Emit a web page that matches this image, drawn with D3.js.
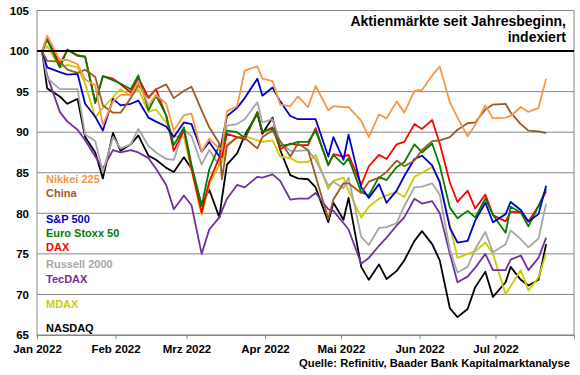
<!DOCTYPE html>
<html><head><meta charset="utf-8">
<script src="https://cdn.jsdelivr.net/npm/d3@7"></script>
<style>
body{margin:0;background:#fff}
svg{display:block}
text{font-family:"Liberation Sans",Arial,sans-serif;font-weight:bold}
</style>
</head><body>
<svg id="chart" width="580" height="375"></svg>
<script>
// ---- data (index, first trading day 2022 = 100) ----
const dates = [
"2022-01-03","2022-01-05","2022-01-10","2022-01-13","2022-01-17","2022-01-20","2022-01-24","2022-01-27","2022-01-31",
"2022-02-03","2022-02-07","2022-02-10","2022-02-14","2022-02-17","2022-02-21","2022-02-24","2022-02-28",
"2022-03-03","2022-03-07","2022-03-10","2022-03-14","2022-03-15","2022-03-17","2022-03-21","2022-03-24","2022-03-29","2022-03-31",
"2022-04-04","2022-04-07","2022-04-11","2022-04-14","2022-04-18","2022-04-21","2022-04-26","2022-04-28",
"2022-05-02","2022-05-04","2022-05-09","2022-05-12","2022-05-16","2022-05-19","2022-05-23","2022-05-26","2022-05-30",
"2022-06-02","2022-06-06","2022-06-09","2022-06-13","2022-06-16","2022-06-20","2022-06-23","2022-06-27","2022-06-30",
"2022-07-05","2022-07-07","2022-07-11","2022-07-14","2022-07-18","2022-07-21"];

const nikkei = [100,101.9,98.9,98.9,98.4,96.5,95.8,90.9,93.8,
 94.6,94.6,96.2,93.3,94.6,93.5,90.2,92.1,
 92.3,87.6,89.2,87.9,88.0,92.6,93.2,97.6,98.1,96.6,
 96.3,93.4,93.2,94.4,93.1,95.7,92.7,93.2,
 93.1,93.1,91.4,89.4,92.2,91.7,93.8,92.4,95.1,
 95.2,97.0,98.1,93.7,91.8,89.5,90.9,93.3,91.7,
 91.8,92.0,93.1,92.5,93.0,96.6];
const china = [100,98.8,98.7,97.7,97.3,97.7,96.8,93.3,92.4,
 92.4,94.2,95.8,94.2,95.3,95.9,94.2,95.1,
 95.6,92.7,90.6,88.6,84.2,88.3,89.4,89.3,88.0,89.4,
 90.2,88.9,87.0,88.6,87.8,84.6,79.3,81.7,
 83.7,83.7,82.5,83.9,84.4,85.1,86.5,85.8,86.5,
 87.8,88.9,89.0,89.4,90.3,91.1,91.2,92.8,93.4,
 93.5,92.4,91.0,90.2,90.1,89.9];
const sp500 = [100,98.0,97.4,97.1,97.2,93.5,91.9,90.2,94.1,
 93.3,93.5,93.9,91.8,91.3,90.7,89.4,91.2,
 91.0,87.6,88.8,87.0,88.9,92.0,93.0,94.2,96.6,94.5,
 95.5,93.8,92.0,91.6,91.6,91.6,87.0,89.4,
 86.6,89.7,83.2,81.9,83.6,81.3,82.8,84.6,86.7,
 87.1,85.9,83.8,78.2,76.4,76.6,79.1,81.3,78.9,
 79.9,81.4,80.4,79.0,79.9,83.4];
const eurostoxx = [100,101.4,98.0,100.2,99.4,99.3,93.6,96.9,96.4,
 96.0,95.3,97.0,92.7,94.5,92.1,88.4,90.6,
 86.0,80.9,85.4,88.4,88.1,90.2,90.0,89.3,92.4,90.1,
 90.4,88.3,88.5,88.8,88.8,90.2,86.0,87.2,
 86.0,86.8,82.6,82.2,84.5,84.1,85.7,86.3,88.5,
 87.5,88.6,85.9,80.7,79.4,80.3,79.5,81.8,79.8,
 77.6,80.8,80.1,78.4,80.9,83.0];
const dax = [100,101.6,98.4,100.1,99.5,99.3,93.7,96.9,96.6,
 95.9,94.9,96.7,94.3,95.3,92.0,87.7,90.3,
 85.5,80.1,83.9,86.9,86.9,89.8,89.4,89.1,92.5,90.0,
 90.6,87.9,88.6,88.4,88.4,90.5,85.9,87.3,
 87.0,87.2,83.5,85.8,87.2,86.7,88.5,88.8,91.0,
 90.4,91.5,88.6,83.8,81.4,82.8,80.6,82.3,79.8,
 79.0,80.2,80.1,79.0,80.9,82.7];
const russell = [100,96.7,95.3,95.3,95.3,89.7,88.9,85.1,89.4,
 88.0,88.5,90.4,88.3,87.5,86.7,86.6,90.3,
 89.5,86.0,87.8,85.9,88.0,90.8,91.0,91.6,93.7,91.2,
 91.6,88.8,87.7,87.7,87.8,86.6,83.4,83.9,
 83.1,84.4,77.1,76.1,78.2,78.3,78.8,80.9,83.2,
 83.3,83.7,82.3,75.5,72.7,73.4,75.6,77.7,75.2,
 76.2,77.9,76.8,75.8,76.9,81.2];
const tecdax = [100,97.0,92.5,91.3,90.3,89.0,87.0,85.5,87.8,
 87.5,87.8,87.5,86.8,85.5,83.5,80.5,82.2,
 81.0,75.0,78.0,79.5,80.3,81.8,83.5,83.2,84.5,84.4,
 84.8,84.0,81.7,81.8,81.8,82.5,80.5,80.3,
 78.8,78.0,73.8,74.5,76.0,77.0,78.5,79.5,81.8,
 81.2,81.5,80.0,75.0,71.5,72.2,73.3,75.0,73.0,
 73.0,74.3,74.8,73.0,74.5,77.0];
const mdax = [100,100.6,98.0,98.3,98.0,96.0,91.8,93.0,94.3,
 95.3,94.5,95.3,92.5,92.8,91.2,89.5,89.4,
 85.3,79.8,83.5,86.0,86.3,88.5,89.3,89.5,89.0,88.8,
 89.0,87.0,86.8,86.3,86.3,87.2,83.0,84.0,
 84.4,82.8,79.5,80.8,81.8,82.2,82.6,82.0,84.5,
 85.0,85.7,84.0,78.5,74.5,75.0,75.3,76.4,75.0,
 70.0,71.0,73.0,70.5,72.1,75.1];
const nasdaq = [100,95.4,94.4,93.5,94.1,89.4,87.5,84.3,89.9,
 87.7,88.5,89.6,87.1,86.6,85.6,85.1,86.9,
 85.5,81.0,82.9,79.5,81.8,86.0,87.4,89.6,92.3,89.8,
 91.8,87.8,84.7,84.3,84.2,83.2,78.9,81.3,
 79.2,81.9,73.4,71.8,73.7,71.9,72.9,74.2,76.6,
 77.8,76.2,74.2,68.3,67.2,68.2,70.9,72.8,69.7,
 71.5,73.4,71.8,71.1,71.8,76.2];

const seriesNames  = ["Nikkei 225","China","S&P 500","Euro Stoxx 50","DAX","Russell 2000","TecDAX","MDAX","NASDAQ"];
const seriesValues = [nikkei, china, sp500, eurostoxx, dax, russell, tecdax, mdax, nasdaq];
const seriesColors = ["#F79646","#9C5A22","#0000CC","#008000","#FF0000","#A6A6A6","#7030A0","#CCCC00","#000000"];
const legendY      = [183,197,223,237,251,268,283,308,332];
const drawOrder    = [8,7,6,5,4,3,2,1,0];

const yTicks = [65,70,75,80,85,90,95,100,105];
const monthTicks = ["2022-01-01","2022-02-01","2022-03-01","2022-04-01","2022-05-01","2022-06-01","2022-07-01","2022-08-01"];
const monthLabels = ["Jan 2022","Feb 2022","Mrz 2022","Apr 2022","Mai 2022","Jun 2022","Jul 2022",""];
const titleLines = ["Aktienmärkte seit Jahresbeginn,","indexiert"];
const sourceText = "Quelle: Refinitiv, Baader Bank Kapitalmarktanalyse";

// ---- chart ----
const parse = d3.utcParse("%Y-%m-%d");
const svg = d3.select("#chart");
const L = 37, R = 574, T = 10.5, B = 335;
const x = d3.scaleUtc().domain([parse("2022-01-01"), parse("2022-08-01")]).range([L, R]);
const y = d3.scaleLinear().domain([65, 105]).range([B, T]);
const FONT = "Liberation Sans, Arial, sans-serif";

// gridlines
svg.append("g").selectAll("line").data(yTicks.filter(v => v !== 100 && v !== 105 && v !== 65)).join("line")
  .attr("x1", L).attr("x2", R).attr("y1", d => y(d)).attr("y2", d => y(d))
  .attr("stroke", "#858585").attr("stroke-width", 1);

// frame
svg.append("rect").attr("x", L).attr("y", T).attr("width", R - L).attr("height", B - T)
  .attr("fill", "none").attr("stroke", "#858585").attr("stroke-width", 1);

// x axis
const xAxis = d3.axisBottom(x)
  .tickValues(monthTicks.map(parse))
  .tickFormat((d, i) => monthLabels[i])
  .tickSize(4).tickSizeOuter(0).tickPadding(6);
const gx = svg.append("g").attr("transform", `translate(0,${B})`).call(xAxis);
gx.select(".domain").attr("stroke", "#858585");
gx.selectAll(".tick line").attr("stroke", "#858585");
gx.selectAll("text").attr("font-size", 11.5).attr("fill", "#000")
  .attr("font-family", FONT).attr("font-weight", "bold");

// y axis labels
const yAxis = d3.axisLeft(y).tickValues(yTicks).tickSize(0).tickPadding(8);
const gy = svg.append("g").attr("transform", `translate(${L},0)`).call(yAxis);
gy.select(".domain").remove();
gy.selectAll("text").attr("font-size", 11.5).attr("fill", "#000")
  .attr("font-family", FONT).attr("font-weight", "bold");

// lines
const line = d3.line().x((d, i) => x(parse(dates[i]))).y(d => y(d));
const gl = svg.append("g");
drawOrder.forEach(k => {
  gl.append("path").datum(seriesValues[k])
    .attr("d", line).attr("fill", "none")
    .attr("stroke", seriesColors[k]).attr("stroke-width", 1.8)
    .attr("stroke-linejoin", "round");
});

// 100 line (black, thick)
svg.append("line").attr("x1", L).attr("x2", R).attr("y1", y(100)).attr("y2", y(100))
  .attr("stroke", "#000").attr("stroke-width", 2);

// legend labels
svg.append("g").selectAll("text").data(seriesNames).join("text")
  .attr("x", 46).attr("y", (d, i) => legendY[i])
  .attr("font-size", 11).attr("fill", (d, i) => seriesColors[i])
  .text(d => d);

// title
svg.append("g").selectAll("text").data(titleLines).join("text")
  .attr("x", 566).attr("y", (d, i) => 26 + i * 16)
  .attr("text-anchor", "end").attr("font-size", 14).attr("fill", "#000")
  .text(d => d);

// source
svg.append("text").attr("x", 570).attr("y", 367).attr("text-anchor", "end")
  .attr("font-size", 11.2).attr("fill", "#000").text(sourceText);
</script>
</body></html>
